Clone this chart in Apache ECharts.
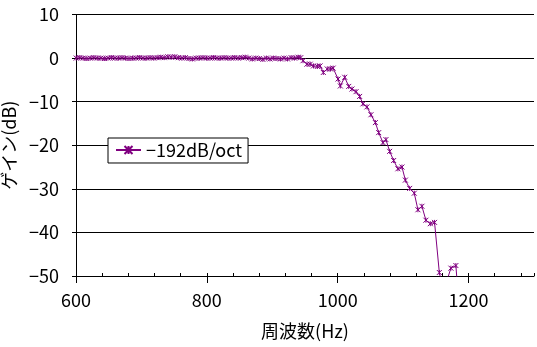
<!DOCTYPE html>
<html>
<head>
<meta charset="utf-8">
<script src="https://cdn.jsdelivr.net/npm/echarts@6/dist/echarts.min.js"></script>
<style>html,body{margin:0;padding:0;background:#fff}#c{width:537px;height:347px}</style>
</head>
<body>
<div id="c"></div>
<script>
// Frequency (Hz) and gain (dB)
const freqs = [
  600.3, 605.7, 611.1, 616.5, 621.8, 627.2, 632.6, 638.0, 643.4, 648.8,
  654.1, 659.5, 664.9, 670.3, 675.7, 681.0, 686.4, 691.8, 697.2, 702.6,
  708.0, 713.3, 718.7, 724.1, 729.5, 734.9, 740.3, 745.6, 751.0, 756.4,
  761.8, 767.2, 772.6, 777.9, 783.3, 788.7, 794.1, 799.5, 804.9, 810.2,
  815.6, 821.0, 826.4, 831.8, 837.2, 842.5, 847.9, 853.3, 858.7, 864.1,
  869.5, 874.8, 880.2, 885.6, 891.0, 896.4, 901.7, 907.1, 912.5, 917.9,
  923.3, 928.7, 934.0, 939.4, 943.5,
  947, 953, 958, 963, 969, 973, 978, 984, 989, 993,
  1000.5, 1004, 1010.7, 1016.8, 1021.8, 1028, 1033.5, 1038.6, 1044.7, 1050.8,
  1057.6, 1062.6, 1069.2, 1073.7, 1079.4, 1085.5, 1092, 1098.2, 1103.4, 1110,
  1117, 1122.6, 1128.7, 1134.8, 1141.5, 1148, 1155.3, 1161, 1166, 1173,
  1180.6, 1187
];
const gains = [
  0, 0.1, 0, -0.1, 0, 0.1, 0, 0, -0.1, 0,
  0.1, 0, 0, 0.1, 0, -0.1, 0, 0, 0.1, 0,
  0, 0.1, 0, 0.1, 0.2, 0.1, 0.3, 0.2, 0.3, 0.1,
  0, 0.1, -0.1, -0.2, 0, 0, 0.1, 0, 0, 0.1,
  0, 0, 0.1, 0, 0, 0.1, 0, 0.1, 0.2, 0,
  -0.2, 0, -0.1, -0.3, 0, -0.2, 0, -0.1, -0.2, 0,
  -0.2, 0.1, 0, 0.2, 0.1,
  -0.6, -1.4, -1.4, -1.8, -1.9, -1.8, -3.3, -2.5, -2.5, -2.3,
  -4.8, -6.4, -4.4, -6.5, -7.1, -7.7, -8.8, -10.5, -11.2, -13.0,
  -14.8, -17.1, -19.4, -18.7, -21.4, -23.5, -25.4, -25.0, -28.0, -29.9,
  -31.0, -34.8, -34.0, -37.2, -38.0, -37.7, -49.2, -53, -51.5, -48.2,
  -47.6, -60
];
const seriesName = '\u2212192dB/oct';
const xTitle = '周波数(Hz)';
const yTitle = 'ゲイン(dB)';

const FONT = '"Noto Sans CJK JP", "Noto Sans", sans-serif';
const data = freqs.map((f, i) => [f, gains[i]]);
const fmtNum = v => String(v).replace('-', '\u2212');
const star = 'path://M0,0L10,10M10,0L0,10M5,0L5,10';

const chart = echarts.init(document.getElementById('c'), null, {renderer: 'canvas'});
chart.setOption({
  animation: false,
  backgroundColor: '#fff',
  grid: {left: 76, right: 3, top: 14.5, bottom: 71, containLabel: false, outerBoundsMode: 'none'},
  legend: {
    show: true,
    left: 108, top: 138,
    padding: [3, 6, 4, 7],
    itemWidth: 25, itemHeight: 10,
    backgroundColor: '#fff',
    borderColor: '#000', borderWidth: 1, borderRadius: 0,
    textStyle: {fontFamily: FONT, fontSize: 18, color: '#000'},
    data: [seriesName]
  },
  xAxis: [{
    type: 'value', min: 600, max: 1300, interval: 200, position: 'bottom',
    name: xTitle, nameLocation: 'middle', nameGap: 46,
    nameTextStyle: {fontFamily: FONT, fontSize: 18, color: '#000'},
    axisLine: {show: true, onZero: false, lineStyle: {color: '#000', width: 1}},
    axisTick: {show: true, inside: false, length: 7, lineStyle: {color: '#000', width: 1}},
    axisLabel: {show: true, showMaxLabel: false, margin: 15, fontFamily: FONT, fontSize: 18, color: '#000', formatter: fmtNum},
    splitLine: {show: false}
  }, {
    type: 'value', min: 600, max: 1300, interval: 40, position: 'bottom',
    axisLine: {show: false, onZero: false},
    axisTick: {show: true, inside: true, length: 3, lineStyle: {color: '#000'}},
    axisLabel: {show: false},
    splitLine: {show: false}
  }],
  yAxis: {
    type: 'value', min: -50, max: 10, interval: 10,
    name: yTitle, nameLocation: 'middle', nameGap: 52, nameRotate: 90,
    nameTextStyle: {fontFamily: FONT, fontSize: 18, color: '#000'},
    axisLine: {show: true, lineStyle: {color: '#000', width: 1}},
    axisTick: {show: true, inside: false, length: 4, lineStyle: {color: '#000'}},
    axisLabel: {margin: 17, fontFamily: FONT, fontSize: 18, color: '#000', formatter: fmtNum},
    splitLine: {show: true, lineStyle: {color: '#000', width: 1}}
  },
  series: [{
    name: seriesName,
    type: 'line',
    xAxisIndex: 0,
    data: data,
    showSymbol: true,
    showAllSymbol: true,
    symbol: star,
    symbolSize: 5,
    clip: true,
    lineStyle: {color: '#800080', width: 1},
    itemStyle: {color: '#800080', borderColor: '#800080', borderWidth: 1},
    emphasis: {disabled: true}
  }]
});
</script>
</body>
</html>
